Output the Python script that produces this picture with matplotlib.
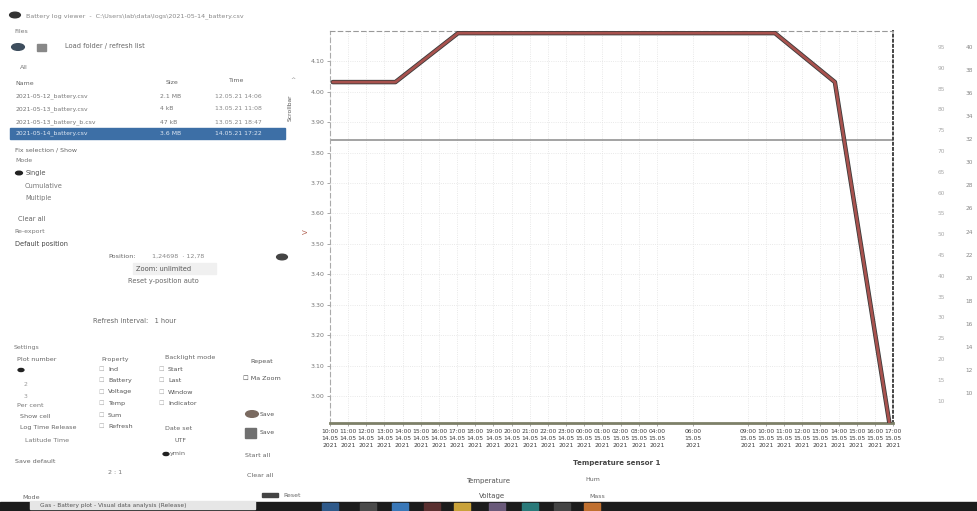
import matplotlib
matplotlib.use("Agg")
import matplotlib.pyplot as plt
from matplotlib.patches import Rectangle, Circle

# ---------------- data ----------------
time_h = [0.15, 3.6, 7.05, 24.5, 27.8, 30.8]
voltage = [4.032, 4.032, 4.193, 4.193, 4.032, 2.911]
threshold_v = 3.842

x_tick_pos = [0, 1, 2, 3, 4, 5, 6, 7, 8, 9, 10, 11, 12, 13, 14, 15, 16, 17, 18,
              20, 23, 24, 25, 26, 27, 28, 29, 30, 31]
x_tick_labels = [
    "10:00\n14.05\n2021", "11:00\n14.05\n2021", "12:00\n14.05\n2021", "13:00\n14.05\n2021",
    "14:00\n14.05\n2021", "15:00\n14.05\n2021", "16:00\n14.05\n2021", "17:00\n14.05\n2021",
    "18:00\n14.05\n2021", "19:00\n14.05\n2021", "20:00\n14.05\n2021", "21:00\n14.05\n2021",
    "22:00\n14.05\n2021", "23:00\n14.05\n2021", "00:00\n15.05\n2021", "01:00\n15.05\n2021",
    "02:00\n15.05\n2021", "03:00\n15.05\n2021", "04:00\n15.05\n2021",
    "06:00\n15.05\n2021",
    "09:00\n15.05\n2021", "10:00\n15.05\n2021", "11:00\n15.05\n2021", "12:00\n15.05\n2021",
    "13:00\n15.05\n2021", "14:00\n15.05\n2021", "15:00\n15.05\n2021", "16:00\n15.05\n2021",
    "17:00\n15.05\n2021",
]
y_ticks = [3.0, 3.1, 3.2, 3.3, 3.4, 3.5, 3.6, 3.7, 3.8, 3.9, 4.0, 4.1]
hum_ticks = [10, 15, 20, 25, 30, 35, 40, 45, 50, 55, 60, 65, 70, 75, 80, 85, 90, 95]
temp_ticks = [10, 12, 14, 16, 18, 20, 22, 24, 26, 28, 30, 32, 34, 36, 38, 40]

W, H = 978, 511
fig = plt.figure(figsize=(W / 100, H / 100), dpi=100)
fig.patch.set_facecolor("white")


def fx(x):
    return x / W


def fy(y):
    return 1 - y / H


def T(x, y, s, size=5, color="#666666", **kw):
    fig.text(fx(x), fy(y), s, fontsize=size, color=color, va="center", ha=kw.pop("ha", "left"), **kw)


# ---------------- main plot ----------------
ax = fig.add_axes([fx(330), fy(423), fx(893) - fx(330), fy(31) - fy(423)])
ax.plot(time_h, voltage, color="#3a3a3a", lw=3.2, solid_capstyle="round", zorder=3)
ax.plot(time_h, voltage, color="#a8524e", lw=2.0, solid_capstyle="round", zorder=4)
ax.axhline(threshold_v, color="#8a8a8a", lw=1.1, zorder=2)
ax.set_xlim(0, 31)
ax.set_ylim(2.911, 4.2)
ax.set_xticks(x_tick_pos)
ax.set_xticklabels(x_tick_labels, fontsize=4.3, color="#3a3a3a", linespacing=1.5)
ax.set_yticks(y_ticks)
ax.set_yticklabels([f"{v:.2f}" for v in y_ticks], fontsize=4.5, color="#777777")
ax.tick_params(axis="both", length=2, width=0.6, color="#999999", pad=2)
ax.grid(True, color="#e2e2e2", lw=0.6, ls=":")
ax.spines["left"].set_color("#aaaaaa")
ax.spines["left"].set_linestyle((0, (4, 3)))
ax.spines["top"].set_color("#999999")
ax.spines["top"].set_linestyle((0, (4, 3)))
ax.spines["right"].set_color("#444444")
ax.spines["right"].set_linestyle(":")
ax.spines["right"].set_linewidth(1.4)
ax.spines["bottom"].set_color("#7d8068")
ax.spines["bottom"].set_linewidth(2.0)

# extra faint right axes (pad is in points)
ax2 = ax.twinx()
ax2.set_ylim(4.6, 98.85)
ax2.set_yticks(hum_ticks)
ax2.set_yticklabels([str(v) for v in hum_ticks], fontsize=4.2, color="#aaaaaa")
ax2.tick_params(axis="y", length=0, pad=32)
for s in ax2.spines.values():
    s.set_visible(False)

ax3 = ax.twinx()
ax3.set_ylim(7.40, 41.39)
ax3.set_yticks(temp_ticks)
ax3.set_yticklabels([str(v) for v in temp_ticks], fontsize=4.2, color="#888888")
ax3.tick_params(axis="y", length=0, pad=52)
for s in ax3.spines.values():
    s.set_visible(False)

T(306, 232, "V", size=5, color="#b06050", rotation=90, ha="center")

# below-plot labels
T(617, 463, "Temperature sensor 1", size=5, color="#444444", ha="center", weight="bold")
T(488, 481, "Temperature", size=5, color="#555555", ha="center")
T(593, 479, "Hum", size=4.5, color="#666666", ha="center")
T(492, 496, "Voltage", size=5, color="#555555", ha="center")
T(597, 496, "Mass", size=4.5, color="#666666", ha="center")

# ---------------- left GUI panel ----------------
fig.add_artist(Circle((fx(15), fy(15)), 0.0055, transform=fig.transFigure, color="#333333"))
T(26, 16, "Battery log viewer  -  C:\\Users\\lab\\data\\logs\\2021-05-14_battery.csv", size=4.6, color="#888888")
T(14, 31, "Files", size=4.5, color="#777777")
fig.add_artist(Circle((fx(18), fy(47)), 0.0065, transform=fig.transFigure, color="#3e4e5e"))
fig.add_artist(Rectangle((fx(37), fy(51)), 0.009, 0.014, transform=fig.transFigure, color="#888888"))
T(65, 46, "Load folder / refresh list", size=4.8, color="#666666")
T(20, 67, "All", size=4.5, color="#777777")
T(15, 83, "Name", size=4.5, color="#666666")
T(166, 82, "Size", size=4.5, color="#666666")
T(229, 81, "Time", size=4.5, color="#666666")
T(290, 79, "^", size=4.5, color="#888888")
rows = [("2021-05-12_battery.csv", "2.1 MB", "12.05.21 14:06"),
        ("2021-05-13_battery.csv", "4 kB", "13.05.21 11:08"),
        ("2021-05-13_battery_b.csv", "47 kB", "13.05.21 18:47")]
for i, (n, s, t) in enumerate(rows):
    yy = 96 + i * 13
    T(16, yy, n, size=4.4, color="#777777")
    T(160, yy, s, size=4.4, color="#777777")
    T(215, yy, t, size=4.4, color="#888888")
fig.add_artist(Rectangle((fx(10), fy(139)), fx(285) - fx(10), 11 / H, transform=fig.transFigure,
                         color="#3d6fa6"))
T(16, 133.5, "2021-05-14_battery.csv", size=4.4, color="#dde6f2")
T(160, 133.5, "3.6 MB", size=4.4, color="#dde6f2")
T(215, 133.5, "14.05.21 17:22", size=4.4, color="#dde6f2")
T(290, 108, "Scrollbar", size=4.3, color="#555555", rotation=90, ha="center")

T(15, 150, "Fix selection / Show", size=4.5, color="#666666")
T(15, 161, "Mode", size=4.5, color="#777777")
fig.add_artist(Circle((fx(19), fy(173)), 0.0035, transform=fig.transFigure, color="#222222"))
T(26, 173, "Single", size=4.8, color="#555555")
T(25, 186, "Cumulative", size=4.8, color="#777777")
T(25, 198, "Multiple", size=4.8, color="#777777")
T(18, 219, "Clear all", size=4.8, color="#666666")
T(14, 232, "Re-export", size=4.5, color="#777777")
T(15, 244, "Default position", size=4.8, color="#444444")
T(108, 256, "Position:", size=4.6, color="#666666")
T(152, 256, "1,24698  \u00b7 12,78", size=4.6, color="#888888")
fig.add_artist(Circle((fx(282), fy(257)), 0.0055, transform=fig.transFigure, color="#444444"))
fig.add_artist(Rectangle((fx(133), fy(274)), fx(216) - fx(133), 11 / H, transform=fig.transFigure,
                         color="#f0f0f0"))
T(136, 268.5, "Zoom: unlimited", size=4.8, color="#555555")
T(128, 281, "Reset y-position auto", size=4.8, color="#666666")
T(93, 321, "Refresh interval:   1 hour", size=4.8, color="#666666")

T(14, 347, "Settings", size=4.5, color="#777777")
T(17, 359, "Plot number", size=4.6, color="#666666")
T(101, 359, "Property", size=4.6, color="#666666")
T(165, 358, "Backlight mode", size=4.6, color="#666666")
T(250, 362, "Repeat", size=4.6, color="#555555")
fig.add_artist(Circle((fx(21), fy(370)), 0.003, transform=fig.transFigure, color="#222222"))
T(24, 384, "2", size=4.4, color="#999999")
T(24, 396, "3", size=4.4, color="#999999")
props = ["Ind", "Battery", "Voltage", "Temp", "Sum", "Refresh"]
for i, p in enumerate(props):
    T(98, 369 + i * 11.5, "\u2610", size=4.4, color="#aaaaaa")
    T(108, 369 + i * 11.5, p, size=4.6, color="#555555")
modes = ["Start", "Last", "Window", "Indicator"]
for i, p in enumerate(modes):
    T(158, 369 + i * 11.5, "\u2610", size=4.4, color="#aaaaaa")
    T(168, 369 + i * 11.5, p, size=4.6, color="#555555")
T(243, 378, "\u2610 Ma Zoom", size=4.6, color="#555555")
T(17, 405, "Per cent", size=4.6, color="#777777")
T(20, 416, "Show cell", size=4.6, color="#666666")
T(20, 428, "Log Time Release", size=4.6, color="#666666")
T(25, 440, "Latitude Time", size=4.6, color="#777777")
T(165, 428, "Date set", size=4.6, color="#666666")
T(175, 440, "UTF", size=4.6, color="#666666")
fig.add_artist(Circle((fx(166), fy(454)), 0.003, transform=fig.transFigure, color="#222222"))
T(170, 454, "ymin", size=4.6, color="#666666")
T(15, 461, "Save default", size=4.6, color="#666666")
T(108, 472, "2 : 1", size=4.6, color="#777777")
fig.add_artist(Circle((fx(252), fy(414)), 0.0065, transform=fig.transFigure, color="#7a6a60"))
T(260, 414, "Save", size=4.4, color="#555555")
fig.add_artist(Rectangle((fx(245), fy(438)), 0.011, 0.02, transform=fig.transFigure, color="#707070"))
T(260, 432, "Save", size=4.4, color="#555555")
T(245, 455, "Start all", size=4.6, color="#666666")
T(247, 475, "Clear all", size=4.6, color="#666666")
T(22, 497, "Mode", size=4.6, color="#666666")
fig.add_artist(Rectangle((fx(262), fy(497)), fx(278) - fx(262), 4 / H, transform=fig.transFigure,
                         color="#444444"))
T(283, 495.5, "Reset", size=4.4, color="#666666")

# ---------------- taskbar ----------------
fig.add_artist(Rectangle((0, 0), 1, 9 / H, transform=fig.transFigure, color="#1c1c1c"))
fig.add_artist(Rectangle((fx(30), fy(509)), fx(255) - fx(30), 8 / H, transform=fig.transFigure,
                         color="#e6e6e6"))
T(40, 505, "Gas - Battery plot - Visual data analysis (Release)", size=4.2, color="#555555")
icon_x = [330, 368, 400, 432, 462, 497, 530, 562, 592]
icon_c = ["#2f5a8a", "#4a4a4a", "#3a78b8", "#5a3030", "#c9a23a", "#6a5a7a", "#2a7a7a", "#444444", "#c07030"]
for xi, ci in zip(icon_x, icon_c):
    fig.add_artist(Rectangle((fx(xi - 8), 0), 16 / W, 8 / H, transform=fig.transFigure, color=ci))

fig.savefig("out.png", dpi=100, facecolor="white")
